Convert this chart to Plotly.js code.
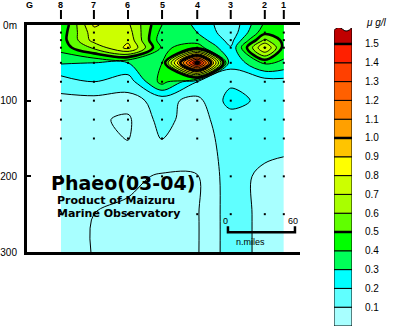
<!DOCTYPE html>
<html><head><meta charset="utf-8">
<script src="https://cdn.plot.ly/plotly-3.0.1.min.js"></script>
<style>html,body{margin:0;padding:0;background:#fff}#chart{width:400px;height:333px}</style>
</head><body><div id="chart"></div>
<script>
// ---- data ----
const stationNames = ['8','7','6','5','4','3','2','1'];
const stationDist  = [0, 29.5, 60, 90.5, 122, 152, 182.5, 199.5];   // n.miles from st.8
const refName = 'G';
const refDist = -28.6;
const depths = [0, 10, 20, 30, 50, 75, 100, 125, 150, 200, 250, 300];
// phaeopigment (ug/l) per station, top to bottom
const st8 = [0.40, 0.44, 0.45, 0.44, 0.31, 0.15, 0.07, 0.07, 0.07, 0.07, 0.07, 0.07];
const st7 = [0.815, 0.76, 0.74, 0.62, 0.30, 0.20, 0.065, 0.058, 0.058, 0.057, 0.05, 0.048];
const st6 = [0.72, 0.75, 0.78, 0.83, 0.30, 0.14, 0.07, 0.042, 0.049, 0.06, 0.042, 0.04];
const st5 = [0.40, 0.36, 0.33, 0.38, 0.40, 0.44, 0.13, 0.12, 0.105, 0.045, 0.04, 0.04];
const st4 = [0.28, 0.30, 0.36, 0.45, 1.56, 0.20, 0.07, 0.068, 0.06, 0.049, 0.046, 0.046];
const st3 = [0.12, 0.13, 0.16, 0.21, 0.21, 0.18, 0.24, 0.15, 0.135, 0.125, 0.125, 0.125];
const st2 = [0.42, 0.47, 0.62, 0.82, 0.42, 0.15, 0.17, 0.13, 0.128, 0.085, 0.085, 0.085];
const st1 = [0.45, 0.46, 0.47, 0.46, 0.38, 0.16, 0.13, 0.13, 0.128, 0.07, 0.07, 0.07];
const levels = [0.1,0.2,0.3,0.4,0.5,0.6,0.7,0.8,0.9,1.0,1.1,1.2,1.3,1.4,1.5];
const levelColors = ['#a8ffff','#60ffff','#00ffff','#00ff58','#00ff00','#60ff00','#a8ff00','#ccff00',
                     '#ffff00','#ffc400','#ffa000','#ff8000','#ff6000','#ff4000','#ff2000','#c00000'];
const thickLevels = [0.5, 1.0, 1.5];
const minorLevel = 0.05;
const depthTicks = [0, 100, 200, 300];
const depthTickText = ['0m', '100', '200', '300'];
const dotDepths = [10, 20, 30, 50, 75, 100, 125, 150, 200, 250];
const scaleMiles = [0, 60];
const unitLabel = '\u03bc g/l';
const titleMain = 'Phaeo(03-04)';
const titleSub1 = 'Product of Maizuru';
const titleSub2 = 'Marine Observatory';

// ---- build ----
const cols = [st8, st7, st6, st5, st4, st3, st2, st1];
const z = depths.map((d, i) => cols.map(c => c[i]));

const cStart = levels[0], cSize = 0.1, cEnd = levels[levels.length - 1];
const nc = Math.floor((cEnd + cSize * 1e-6 - cStart) / cSize) + 1;
const dmin = cStart - cSize / 2, dmax = (nc - 0.5) * cSize + cStart;
const pos = v => (v - dmin) / (dmax - dmin);
const colorscale = [[0, levelColors[0]]];
levels.forEach((L, i) => {
  colorscale.push([pos(L), levelColors[i]]);
  colorscale.push([pos(L), levelColors[i + 1]]);
});
colorscale.push([1, levelColors[levelColors.length - 1]]);

// layout geometry (pixels -> paper)
const W = 400, H = 333, mL = 27, mR = 10, mT = 25, mB = 7;
const pw = W - mL - mR, ph = H - mT - mB;
const px2x = p => (p - mL) / pw;
const py2y = p => (H - mB - p) / ph;
const plotRight = 300, plotBottom = 252;
// depth (m) of a pixel row inside the main plot
const py2d = p => (p - mT) / (plotBottom - mT) * 300;

const traces = [];
traces.push({
  type: 'contour', x: stationDist, y: depths, z: z,
  autocontour: false,
  contours: {start: cStart, end: cEnd, size: cSize, coloring: 'fill', showlines: true},
  colorscale: colorscale, showscale: false,
  line: {color: '#000', width: 1, smoothing: 1},
  hoverinfo: 'skip'
});
traces.push({
  type: 'contour', x: stationDist, y: depths, z: z,
  autocontour: false,
  contours: {start: thickLevels[0], end: thickLevels[thickLevels.length - 1], size: 0.5, coloring: 'none'},
  showscale: false, line: {color: '#000', width: 2.6, smoothing: 1}, hoverinfo: 'skip'
});
traces.push({
  type: 'contour', x: stationDist, y: depths, z: z,
  autocontour: false,
  contours: {start: minorLevel, end: minorLevel, size: 0.1, coloring: 'none'},
  showscale: false, line: {color: '#000', width: 1, smoothing: 1}, hoverinfo: 'skip'
});
// sample dots
const dx = [], dy = [];
stationDist.forEach(x => dotDepths.forEach(d => { dx.push(x); dy.push(d); }));
traces.push({type: 'scatter', mode: 'markers', x: dx, y: dy,
  marker: {symbol: 'square', size: 2, color: '#000'}, hoverinfo: 'skip'});
// scale bar
const sbOrigin = 149.5, sbY = 274, sbTick = 266;
traces.push({type: 'scatter', mode: 'lines',
  x: [sbOrigin + scaleMiles[0], sbOrigin + scaleMiles[0], sbOrigin + scaleMiles[1], sbOrigin + scaleMiles[1]],
  y: [sbTick, sbY, sbY, sbTick], line: {color: '#000', width: 2.5}, hoverinfo: 'skip', cliponaxis: false});
// colour bar (bars on their own axes)
const nb = levels.length;
traces.push({type: 'bar', xaxis: 'x2', yaxis: 'y2',
  x: levels.map(() => 0.5), y: levels.map(() => 1), base: levels.map((l, i) => i), width: 1,
  marker: {color: levelColors.slice(0, nb), line: {color: '#000', width: 1}}, hoverinfo: 'skip'});

const shapes = [];
// station ticks on top
stationDist.forEach(x => shapes.push({type: 'line', xref: 'x', yref: 'paper', x0: x, x1: x,
  y0: py2y(19), y1: py2y(10), line: {color: '#000', width: 2}}));
// colour bar top (>1.5) with a wavy top
shapes.push({type: 'path', xref: 'x2', yref: 'y2',
  path: `M0,${nb} L0,${nb + 0.72} Q0.22,${nb + 1.0} 0.48,${nb + 0.78} Q0.72,${nb + 0.55} 1,${nb + 0.88} L1,${nb} Z`,
  fillcolor: levelColors[nb], line: {color: '#000', width: 1}});
thickLevels.forEach(L => {
  const k = levels.findIndex(v => Math.abs(v - L) < 1e-9) + 1;
  shapes.push({type: 'line', xref: 'x2', yref: 'y2', x0: 0, x1: 1, y0: k, y1: k, line: {color: '#000', width: 2.5}});
});

const font = 'Liberation Sans, Arial, sans-serif';
const tfont = 'DejaVu Sans, Liberation Sans, sans-serif';
const annotations = [];
[refName].concat(stationNames).forEach((n, i) => {
  const x = i === 0 ? refDist : stationDist[i - 1];
  annotations.push({text: '<b>' + n + '</b>', x: x, xref: 'x', y: py2y(5), yref: 'paper', showarrow: false,
    font: {family: font, size: 9, color: '#000'}, xanchor: 'center', yanchor: 'middle'});
});
const txtBox = {showarrow: false, xanchor: 'left', yanchor: 'middle', borderpad: 0, borderwidth: 0, xref: 'x', yref: 'y'};
annotations.push(Object.assign({text: '<b>' + titleMain + '</b>', x: -8.6, y: py2d(182.5),
  font: {family: tfont, size: 19, color: '#000'}}, txtBox));
annotations.push(Object.assign({text: '<b>' + titleSub1 + '</b>', x: -3.8, y: py2d(200),
  font: {family: tfont, size: 11, color: '#000'}}, txtBox));
annotations.push(Object.assign({text: '<b>' + titleSub2 + '</b>', x: -3.8, y: py2d(213),
  font: {family: tfont, size: 11, color: '#000'}}, txtBox));
scaleMiles.forEach(m => annotations.push({text: String(m), x: sbOrigin + m - 2, y: 259, xref: 'x', yref: 'y',
  showarrow: false, xanchor: 'center', yanchor: 'middle', font: {family: font, size: 9, color: '#000'}}));
annotations.push({text: 'n.miles', x: sbOrigin + (scaleMiles[0] + scaleMiles[1]) / 3, y: 287, xref: 'x', yref: 'y',
  showarrow: false, xanchor: 'center', yanchor: 'middle', font: {family: font, size: 9, color: '#000'}});
annotations.push({text: '<i>' + unitLabel + '</i>', x: px2x(364), y: py2y(22), xref: 'paper', yref: 'paper',
  showarrow: false, xanchor: 'left', yanchor: 'middle', font: {family: font, size: 10, color: '#000'}});

const layout = {
  width: W, height: H, margin: {l: mL, r: mR, t: mT, b: mB, pad: 0},
  paper_bgcolor: '#fff', plot_bgcolor: '#fff', showlegend: false, font: {family: font},
  xaxis: {domain: [0, px2x(plotRight)], range: [-30.4, 214], showgrid: false, zeroline: false,
    showticklabels: false, ticks: '', showline: true, mirror: true, linecolor: '#000', linewidth: 3},
  yaxis: {domain: [py2y(plotBottom), 1], range: [300, 0], showgrid: false, zeroline: false,
    tickvals: depthTicks, ticktext: depthTickText, ticks: 'inside', ticklen: 4, tickwidth: 2,
    tickcolor: '#000', showline: true, linecolor: '#000', linewidth: 3, ticklabelstandoff: 5,
    tickfont: {family: font, size: 10, color: '#000'}},
  xaxis2: {domain: [px2x(334), px2x(352)], range: [0, 1], anchor: 'y2', visible: false, fixedrange: true},
  yaxis2: {domain: [py2y(326), py2y(28)], range: [0, nb + 0.85], anchor: 'x2', side: 'right',
    showgrid: false, zeroline: false, showline: false,
    tickvals: levels.map((l, i) => i + 1), ticktext: levels.map(l => l.toFixed(1)),
    ticks: 'outside', ticklen: 10, tickcolor: 'rgba(0,0,0,0)',
    tickfont: {family: font, size: 10, color: '#000'}},
  shapes: shapes, annotations: annotations
};
Plotly.newPlot('chart', traces, layout, {staticPlot: true, displayModeBar: false});
</script></body></html>
